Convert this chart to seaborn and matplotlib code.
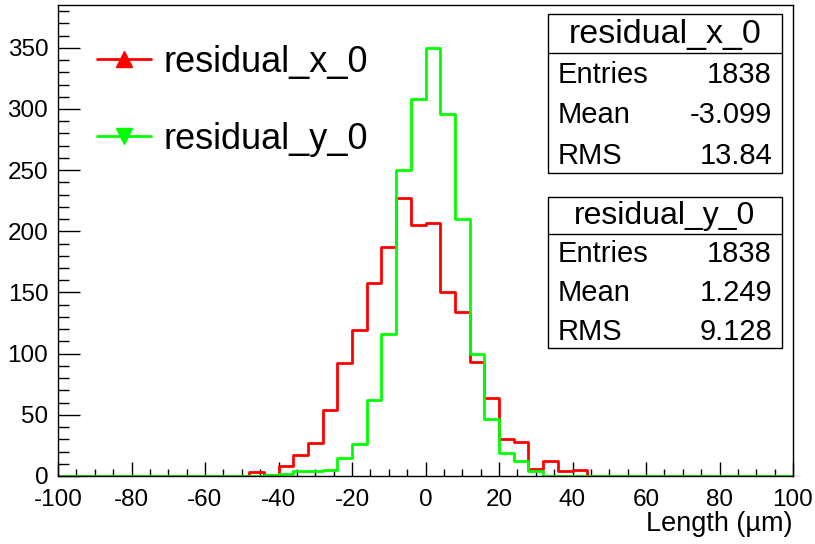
import numpy as np
import pandas as pd
import matplotlib
matplotlib.use("Agg")
import matplotlib.pyplot as plt
from matplotlib.lines import Line2D
from matplotlib.patches import Rectangle
from matplotlib.ticker import MultipleLocator
import seaborn as sns

# Histogram binning (4 um bins over [-100, 100])
bin_edges = list(range(-100, 101, 4))

# residual_x_0: lower edges of filled bins and their counts
x_bin_lo = [-48, -44, -40, -36, -32, -28, -24, -20, -16, -12, -8, -4,
            0, 4, 8, 12, 16, 20, 24, 28, 32, 36, 40]
x_counts = [3, 1, 8, 17, 27, 54, 92, 119, 158, 187, 227, 205,
            207, 150, 134, 93, 64, 30, 28, 6, 12, 4, 5]

# residual_y_0: lower edges of filled bins and their counts
y_bin_lo = [-44, -40, -36, -32, -28, -24, -20, -16, -12, -8, -4,
            0, 4, 8, 12, 16, 20, 24, 28]
y_counts = [1, 2, 4, 4, 5, 15, 26, 62, 116, 250, 308,
            350, 296, 210, 100, 47, 19, 12, 4]

series_names = ["residual_x_0", "residual_y_0"]
series_colors = ["#ff0000", "#00ff00"]

# Summary statistics shown in the stat boxes
stat_labels = ["Entries", "Mean", "RMS"]
x_stats = ["1838", "-3.099", "13.84"]
y_stats = ["1838", "1.249", "9.128"]

x_ticks_major = np.arange(-100, 101, 20)
y_ticks_major = np.arange(0, 351, 50)

TICK_FS = 17.5

sns.set_style("ticks")
plt.rcParams["font.family"] = ["Liberation Sans", "DejaVu Sans"]
plt.rcParams["axes.unicode_minus"] = False
plt.rcParams["text.color"] = "black"
plt.rcParams["xtick.color"] = "black"
plt.rcParams["ytick.color"] = "black"
plt.rcParams["xtick.labelcolor"] = "black"
plt.rcParams["ytick.labelcolor"] = "black"
plt.rcParams["axes.labelcolor"] = "black"
plt.rcParams["xtick.labelsize"] = TICK_FS
plt.rcParams["ytick.labelsize"] = TICK_FS

W, H = 815, 544
fig = plt.figure(figsize=(W / 100, H / 100), dpi=100)
fig.patch.set_facecolor("white")

ax_l, ax_r, ax_t, ax_b = 58, 793, 5, 476
ax = fig.add_axes([ax_l / W, 1 - ax_b / H, (ax_r - ax_l) / W, (ax_b - ax_t) / H])

for lo, cnt, col in [(x_bin_lo, x_counts, series_colors[0]),
                     (y_bin_lo, y_counts, series_colors[1])]:
    df = pd.DataFrame({"center": [v + 2 for v in lo], "count": cnt})
    sns.histplot(data=df, x="center", weights="count", bins=bin_edges,
                 element="step", fill=False, color=col, linewidth=2.0,
                 ax=ax)

ax.set_xlim(-100, 100)
ax.set_ylim(0, 385)
ax.set_xticks(x_ticks_major)
ax.set_yticks(y_ticks_major)
ax.xaxis.set_minor_locator(MultipleLocator(5))
ax.yaxis.set_minor_locator(MultipleLocator(10))
ax.tick_params(axis="both", which="both", direction="in", colors="black",
               labelsize=TICK_FS, width=1)
ax.tick_params(axis="x", which="major", length=10, pad=9.5)
ax.tick_params(axis="x", which="minor", length=5)
ax.tick_params(axis="y", which="major", length=16, pad=7)
ax.tick_params(axis="y", which="minor", length=8)
for lbl in ax.get_xticklabels() + ax.get_yticklabels():
    lbl.set_fontsize(TICK_FS)
for s in ax.spines.values():
    s.set_visible(True)
    s.set_color("black")
    s.set_linewidth(1.0)
ax.set_ylabel("")
ax.set_xlabel("Length (µm)", fontsize=19.5, ha="right", va="baseline")
ax.xaxis.set_label_coords(1.0, (ax_b - 531) / (ax_b - ax_t))

# Legend
handles = [Line2D([], [], color=series_colors[0], lw=2, marker="^", markersize=11),
           Line2D([], [], color=series_colors[1], lw=2, marker="v", markersize=11)]
leg = fig.legend(handles, series_names, loc="upper left",
                 bbox_to_anchor=(97 / W, 1 - 45 / H), frameon=False,
                 fontsize=26, handlelength=1.5, handletextpad=0.33,
                 labelspacing=1.15, borderpad=0, borderaxespad=0)


def px(x, y):
    return x / W, 1 - y / H


def stat_box(top, sep, bottom, title, title_size, title_y, row_ys, values):
    x0, x1 = 547.5, 782
    fig.patches.append(Rectangle(px(x0, bottom), (x1 - x0) / W, (bottom - top) / H,
                                 transform=fig.transFigure, facecolor="white",
                                 edgecolor="black", lw=1.0, zorder=5))
    fig.lines.append(Line2D([x0 / W, x1 / W], [1 - sep / H] * 2,
                            transform=fig.transFigure, color="black", lw=1.0,
                            zorder=6))
    fig.text(*px((x0 + x1) / 2, title_y), title, fontsize=title_size,
             ha="center", va="center", zorder=7)
    for lab, val, yy in zip(stat_labels, values, row_ys):
        fig.text(*px(558, yy), lab, fontsize=21, ha="left", va="center", zorder=7)
        fig.text(*px(772, yy), val, fontsize=21, ha="right", va="center", zorder=7)


stat_box(14, 53, 173, series_names[0], 24.5, 34, [75, 115, 156], x_stats)
stat_box(197, 234, 348, series_names[1], 23, 216, [254, 293, 332], y_stats)

fig.savefig("out.png", dpi=100)
